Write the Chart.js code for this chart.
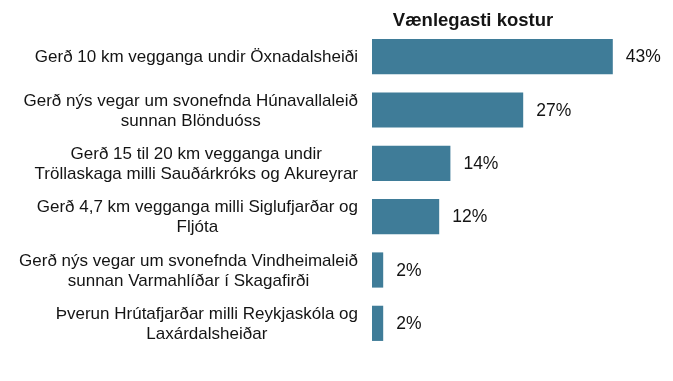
<!DOCTYPE html>
<html>
<head>
<meta charset="utf-8">
<script src="https://cdn.jsdelivr.net/npm/chart.js@4"></script>
<style>
  body { margin: 0; background: #fff; }
  #wrap { width: 673px; height: 381px; }
</style>
</head>
<body>
<div id="wrap"><canvas id="chart"></canvas></div>
<script>
const chartTitle = 'Vænlegasti kostur';

const categories = [
    ['Gerð 10 km vegganga undir Öxnadalsheiði'],
    ['Gerð nýs vegar um svonefnda Húnavallaleið', 'sunnan Blönduóss'],
    ['Gerð 15 til 20 km vegganga undir', 'Tröllaskaga milli Sauðárkróks og Akureyrar'],
    ['Gerð 4,7 km vegganga milli Siglufjarðar og', 'Fljóta'],
    ['Gerð nýs vegar um svonefnda Vindheimaleið', 'sunnan Varmahlíðar í Skagafirði'],
    ['Þverun Hrútafjarðar milli Reykjaskóla og', 'Laxárdalsheiðar']
];

const values = [43, 27, 14, 12, 2, 2];

const barColor = '#3f7c98';
const textColor = '#141414';
const fontFamily = '"Liberation Sans", Arial, sans-serif';

// draws the wrapped category labels, value labels and the title
const labelsPlugin = {
    id: 'labelsPlugin',
    afterDatasetsDraw(chart) {
        const ctx = chart.ctx;
        const area = chart.chartArea;
        const yScale = chart.scales.y;
        const meta = chart.getDatasetMeta(0);

        ctx.save();
        ctx.fillStyle = textColor;
        ctx.textBaseline = 'middle';

        // category labels: block right-aligned, lines centered inside block
        ctx.font = '17px ' + fontFamily;
        ctx.textAlign = 'center';
        const lineH = 20;
        categories.forEach((lines, i) => {
            const y = yScale.getPixelForValue(i) + 1;
            const maxW = Math.max(...lines.map(l => ctx.measureText(l).width));
            const cx = area.left - 14 - maxW / 2;
            const startY = y - (lines.length - 1) * lineH / 2;
            lines.forEach((l, j) => ctx.fillText(l, cx, startY + j * lineH));
        });

        // value labels
        ctx.font = '17.5px ' + fontFamily;
        ctx.textAlign = 'left';
        meta.data.forEach((bar, i) => {
            ctx.fillText(values[i] + '%', bar.x + 13, bar.y + 1);
        });

        // title
        ctx.font = 'bold 18.5px ' + fontFamily;
        ctx.textAlign = 'center';
        ctx.textBaseline = 'alphabetic';
        ctx.fillText(chartTitle, area.left + 101, 26);
        ctx.restore();
    }
};

new Chart(document.getElementById('chart'), {
    type: 'bar',
    data: {
        labels: categories.map(c => c.join(' ')),
        datasets: [{
            data: values,
            backgroundColor: barColor,
            borderWidth: 0,
            categoryPercentage: 1,
            barPercentage: 0.66
        }]
    },
    options: {
        indexAxis: 'y',
        responsive: true,
        maintainAspectRatio: false,
        animation: false,
        layout: {
            padding: { left: 372, top: 30, right: 21, bottom: 31 }
        },
        scales: {
            x: { display: false, min: 0, max: 50 },
            y: { display: false }
        },
        plugins: {
            legend: { display: false },
            tooltip: { enabled: false },
            title: { display: false }
        }
    },
    plugins: [labelsPlugin]
});
</script>
</body>
</html>
